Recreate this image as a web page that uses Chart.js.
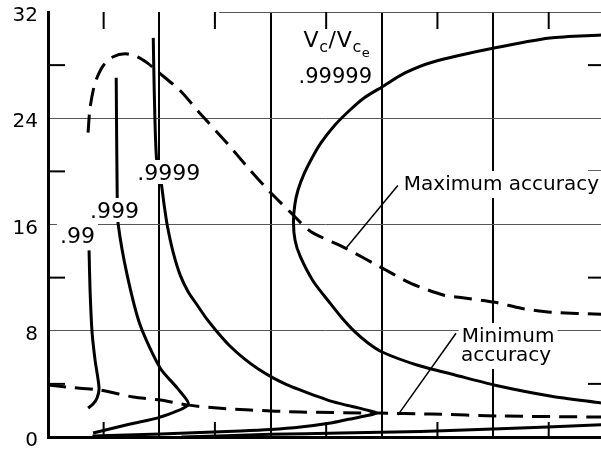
<!DOCTYPE html>
<html>
<head>
<meta charset="utf-8">
<script src="https://cdn.jsdelivr.net/npm/chart.js@4/dist/chart.umd.min.js"></script>
<style>
  html, body { margin: 0; padding: 0; background: #fff; }
  canvas { display: block; }
</style>
</head>
<body>
<canvas id="chart" width="601" height="451"></canvas>
<script>
// Axis ticks
const yTicks = [0, 8, 16, 24, 32];
const yMinor = [4, 12, 20, 28];
const xMajor = [1, 2, 3, 4];
const xMinor = [0.5, 1.5, 2.5, 3.5, 4.5];

// Curves of constant Vc/Vce, as [x, y] pairs
const curve99 = [[0.369,14.05],[0.378,11.04],[0.396,7.89],[0.423,5.79],[0.459,3.68],[0.441,2.93],[0.405,2.48],[0.360,2.18]];
const curve999 = [[0.613,27.05],[0.622,18.0],[0.631,16.0],[0.712,12.17],[0.829,8.41],[1.009,5.18],[1.162,3.68],[1.261,2.45],[1.009,1.50],[0.739,0.98],[0.405,0.30]];
const curve9999 = [[0.946,30.05],[0.955,26.0],[0.975,21.0],[1.018,19.08],[1.045,17.4],[1.072,15.93],[1.125,13.9],[1.189,12.17],[1.262,10.9],[1.342,9.92],[1.430,8.85],[1.523,7.89],[1.635,6.85],[1.757,5.94],[1.890,5.12],[2.027,4.43],[2.145,3.95],[2.270,3.53],[2.405,3.1],[2.541,2.70],[2.670,2.42],[2.784,2.20],[2.870,2.02],[2.95,1.80],[2.85,1.58],[2.70,1.33],[2.54,1.05],[2.27,0.75],[2.0,0.56],[1.73,0.45],[1.01,0.23],[0.40,0.08]];
const curve99999 = [[4.970,30.27],[4.512,30.05],[4.008,29.29],[3.460,28.24],[3.208,27.41],[3.002,26.36],[2.840,25.53],[2.714,24.62],[2.579,23.49],[2.453,22.14],[2.373,21.01],[2.305,19.88],[2.247,18.60],[2.218,17.47],[2.206,16.19],[2.220,14.83],[2.265,13.63],[2.382,11.75],[2.534,10.09],[2.642,8.96],[2.759,7.91],[2.876,7.08],[3.002,6.40],[3.316,5.42],[3.658,4.67],[4.008,3.92],[4.512,3.09],[4.970,2.56]];
const curve99999Low = [[1.2,0.0],[2.0,0.2],[2.63,0.3],[3.35,0.42],[4.0,0.6],[4.98,0.92]];

// Accuracy limits (dashed)
const maxAccuracy = [[0.360,22.92],[0.378,24.79],[0.423,26.67],[0.495,27.95],[0.586,28.63],[0.694,28.85],[0.802,28.63],[0.892,28.17],[1.0,27.42],[1.189,26.07],[1.369,24.34],[1.613,22.09],[1.820,20.06],[2.0,18.41],[2.180,16.91],[2.360,15.48],[2.658,14.28],[3.009,12.70],[3.261,11.57],[3.559,10.67],[3.71,10.5],[4.018,10.14],[4.252,9.69],[4.523,9.39],[4.982,9.24]];
const minAccuracy = [[0.0,3.91],[0.171,3.76],[0.468,3.53],[0.766,3.01],[1.009,2.78],[1.261,2.40],[1.523,2.18],[1.820,2.03],[2.270,1.88],[2.964,1.80],[3.441,1.73],[4.072,1.58],[4.982,1.50]];

// Text annotations: [text, x, y, font size, align]
const curveLabels = [
  ['.99', 0.108, 14.6, 22, 'left'],
  ['.999', 0.378, 16.49, 22, 'left'],
  ['.9999', 0.802, 19.35, 22, 'left'],
  ['.99999', 2.252, 26.66, 21, 'left'],
  ['Maximum accuracy', 3.198, 18.6, 20, 'left'],
  ['Minimum', 4.135, 7.15, 20, 'center'],
  ['accuracy', 4.117, 5.72, 20, 'center']
];
// Leader lines from labels to the dashed curves
const leaders = [
  [[3.144, 18.93], [2.676, 14.2]],
  [[3.667, 7.81], [3.144, 1.65]]
];
const ratioTitlePos = [2.297, 29.37];
const topRuleFrom = 1.54;

const FONT = '"DejaVu Sans", sans-serif';
const toXY = arr => arr.map(([x, y]) => ({ x, y }));

const solid = (label, data) => ({
  label, data: toXY(data), showLine: true, borderColor: '#000', borderWidth: 3,
  pointRadius: 0, tension: 0.25, fill: false
});
const dashed = (label, data) => Object.assign(solid(label, data), { borderDash: [18, 9], borderWidth: 3 });

const decor = {
  id: 'decor',
  beforeDatasetsDraw(chart) {
    const { ctx, chartArea: a, scales: { x, y } } = chart;
    const line = (x1, y1, x2, y2) => { ctx.beginPath(); ctx.moveTo(x1, y1); ctx.lineTo(x2, y2); ctx.stroke(); };
    ctx.save();
    ctx.strokeStyle = '#555';
    ctx.lineWidth = 1;
    const ty = Math.round(y.getPixelForValue(32)) + 0.5;
    line(x.getPixelForValue(topRuleFrom), ty, a.right, ty);
    ctx.strokeStyle = '#000';
    ctx.lineWidth = 2;
    for (const v of xMinor) {
      const px = x.getPixelForValue(v);
      line(px, a.top, px, a.top + 17);
      line(px, a.bottom - 15, px, a.bottom);
    }
    for (const v of yMinor) {
      const py = y.getPixelForValue(v);
      line(a.left, py, a.left + 17, py);
      line(a.right - 13, py, a.right, py);
    }
    ctx.restore();
  },
  afterDatasetsDraw(chart) {
    const { ctx, scales: { x, y } } = chart;
    ctx.save();
    ctx.textBaseline = 'alphabetic';
    for (const [text, vx, vy, size, align] of curveLabels) {
      ctx.font = size + 'px ' + FONT;
      const m = ctx.measureText(text);
      const w = m.width;
      const px = x.getPixelForValue(vx);
      const py = y.getPixelForValue(vy);
      const left = align === 'center' ? px - w / 2 : px;
      const asc = m.actualBoundingBoxAscent, desc = m.actualBoundingBoxDescent;
      ctx.fillStyle = '#fff';
      ctx.fillRect(left - 3, py - asc - 4, w + 6, asc + desc + 8);
      ctx.fillStyle = '#000';
      ctx.textAlign = 'left';
      ctx.fillText(text, left, py);
    }
    // Vc / Vce title with subscripts
    let cx = x.getPixelForValue(ratioTitlePos[0]);
    const by = y.getPixelForValue(ratioTitlePos[1]);
    const parts = [['V', 22, 0], ['c', 16, 5], ['/', 22, 0], ['V', 22, 0], ['c', 16, 5], ['e', 13, 10]];
    ctx.fillStyle = '#000';
    for (const [t, s, dy] of parts) {
      ctx.font = s + 'px ' + FONT;
      ctx.fillText(t, cx, by + dy);
      cx += ctx.measureText(t).width + (t === '/' ? 1 : 0.5);
    }
    ctx.strokeStyle = '#000';
    ctx.lineWidth = 1.5;
    for (const [[x1, y1], [x2, y2]] of leaders) {
      ctx.beginPath();
      ctx.moveTo(x.getPixelForValue(x1), y.getPixelForValue(y1));
      ctx.lineTo(x.getPixelForValue(x2), y.getPixelForValue(y2));
      ctx.stroke();
    }
    ctx.restore();
  }
};

new Chart(document.getElementById('chart'), {
  type: 'scatter',
  data: {
    datasets: [
      solid('.99', curve99),
      solid('.999', curve999),
      solid('.9999', curve9999),
      solid('.99999', curve99999),
      solid('.99999 (lower)', curve99999Low),
      dashed('Maximum accuracy', maxAccuracy),
      dashed('Minimum accuracy', minAccuracy)
    ]
  },
  options: {
    responsive: false,
    animation: false,
    layout: { padding: { top: 12, right: 0, bottom: 14, left: 0 } },
    plugins: { legend: { display: false }, tooltip: { enabled: false } },
    scales: {
      x: {
        type: 'linear', min: 0, max: 4.97,
        afterBuildTicks: s => { s.ticks = xMajor.map(v => ({ value: v })); },
        afterFit: s => { s.height = 0; s.paddingLeft = 0; s.paddingRight = 0; },
        ticks: { display: false },
        grid: { drawTicks: false, color: '#000', lineWidth: 2 },
        border: { display: true, color: '#000', width: 3 }
      },
      y: {
        min: 0, max: 32,
        afterBuildTicks: s => { s.ticks = yTicks.map(v => ({ value: v })); },
        afterFit: s => { s.width = 48; s.paddingTop = 0; s.paddingBottom = 0; },
        ticks: { font: { family: FONT, size: 20 }, color: '#000', padding: 10, labelOffset: 4 },
        grid: {
          drawTicks: false, lineWidth: 1,
          color: c => (c.tick && c.tick.value > 0 && c.tick.value < 32) ? '#555' : 'rgba(0,0,0,0)'
        },
        border: { display: true, color: '#000', width: 3 }
      }
    }
  },
  plugins: [decor]
});
</script>
</body>
</html>
